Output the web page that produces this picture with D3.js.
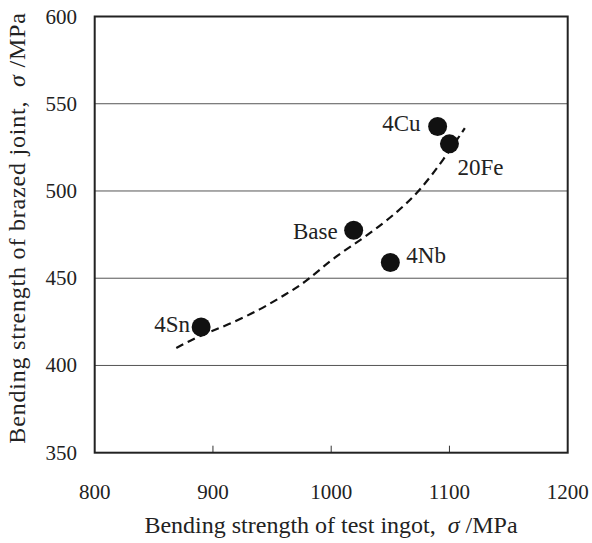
<!DOCTYPE html>
<html>
<head>
<meta charset="utf-8">
<title>Bending strength</title>
<style>
  body { margin: 0; background: #fff; }
  .grid line { stroke: #555; stroke-width: 1; }
  .frame { fill: none; stroke: #222; stroke-width: 2; }
</style>
</head>
<body>
<div id="chart"></div>
<script src="https://cdn.jsdelivr.net/npm/d3@7"></script>
<script>
// data
var names   = ["4Cu", "20Fe", "Base", "4Nb", "4Sn"];
var ingot   = [1090, 1100, 1019, 1050, 890];
var joint   = [537, 527, 477.5, 459, 422];

// dashed trend line
var trendX = [869, 890, 912, 940, 962, 979, 1002, 1030, 1058, 1076, 1095, 1113];
var trendY = [410, 417.5, 423, 432, 441, 448, 462, 474, 489, 501, 518, 536];

var xTicks = [800, 900, 1000, 1100, 1200];
var yTicks = [350, 400, 450, 500, 550, 600];

// label placement relative to each marker
var labelPos = {
  "4Cu":  { dx: -17, dy: 5,  anchor: "end" },
  "20Fe": { dx: 8,   dy: 31, anchor: "start" },
  "Base": { dx: -16, dy: 9,  anchor: "end" },
  "4Nb":  { dx: 16,  dy: 0,  anchor: "start" },
  "4Sn":  { dx: -11, dy: 5,  anchor: "end" }
};

var serif = "'Liberation Serif'";

var width = 592, height = 543;
var margin = { left: 94.7, right: 24.3, top: 16.5, bottom: 90.3 };

var x = d3.scaleLinear().domain([800, 1200]).range([margin.left, width - margin.right]);
var y = d3.scaleLinear().domain([350, 600]).range([height - margin.bottom, margin.top]);

var svg = d3.select("#chart").append("svg")
    .attr("width", width)
    .attr("height", height);

// horizontal grid
svg.append("g")
    .attr("class", "grid")
    .selectAll("line")
    .data(yTicks.filter(function(d) { return d > 350 && d < 600; }))
    .enter().append("line")
    .attr("x1", x(800)).attr("x2", x(1200))
    .attr("y1", function(d) { return y(d); })
    .attr("y2", function(d) { return y(d); });

// inner x ticks
svg.append("g")
    .selectAll("line")
    .data(xTicks.slice(1, -1))
    .enter().append("line")
    .attr("x1", function(d) { return x(d); })
    .attr("x2", function(d) { return x(d); })
    .attr("y1", y(350))
    .attr("y2", y(350) - 7)
    .attr("stroke", "#333")
    .attr("stroke-width", 1);

svg.append("rect")
    .attr("class", "frame")
    .attr("x", x(800)).attr("y", y(600))
    .attr("width", x(1200) - x(800))
    .attr("height", y(350) - y(600));

// tick labels
svg.append("g")
    .selectAll("text")
    .data(yTicks)
    .enter().append("text")
    .attr("x", 77)
    .attr("y", function(d) { return y(d) + 7; })
    .attr("text-anchor", "end")
    .attr("font-size", 21)
    .style("font-family", serif)
    .style("fill", "#222")
    .text(function(d) { return d; });

svg.append("g")
    .selectAll("text")
    .data(xTicks)
    .enter().append("text")
    .attr("x", function(d) { return x(d); })
    .attr("y", 499)
    .attr("text-anchor", "middle")
    .attr("font-size", 21)
    .style("font-family", serif)
    .style("fill", "#222")
    .text(function(d) { return d; });

// trend line
var line = d3.line()
    .x(function(d, i) { return x(trendX[i]); })
    .y(function(d, i) { return y(trendY[i]); })
    .curve(d3.curveBasis);

svg.append("path")
    .datum(trendX)
    .attr("d", line)
    .attr("fill", "none")
    .attr("stroke", "#111")
    .attr("stroke-width", 2.2)
    .attr("stroke-dasharray", "8,5");

// markers
var pts = names.map(function(n, i) { return { name: n, x: ingot[i], y: joint[i] }; });

svg.append("g")
    .selectAll("circle")
    .data(pts)
    .enter().append("circle")
    .attr("cx", function(d) { return x(d.x); })
    .attr("cy", function(d) { return y(d.y); })
    .attr("r", 9.5)
    .attr("fill", "#111");

svg.append("g")
    .selectAll("text")
    .data(pts)
    .enter().append("text")
    .attr("x", function(d) { return x(d.x) + labelPos[d.name].dx; })
    .attr("y", function(d) { return y(d.y) + labelPos[d.name].dy; })
    .attr("text-anchor", function(d) { return labelPos[d.name].anchor; })
    .attr("font-size", 23)
    .style("font-family", serif)
    .style("fill", "#222")
    .text(function(d) { return d.name; });

// axis titles
var xt = svg.append("text")
    .attr("x", 331)
    .attr("y", 533)
    .attr("text-anchor", "middle")
    .attr("font-size", 24)
    .style("font-family", serif)
    .style("fill", "#222");
xt.append("tspan").text("Bending strength of test ingot,\u00a0\u00a0");
xt.append("tspan").attr("font-style", "italic").text("\u03c3");
xt.append("tspan").text(" /MPa");

var yt = svg.append("text")
    .attr("transform", "translate(25," + 228 + ") rotate(-90)")
    .attr("text-anchor", "middle")
    .attr("font-size", 24)
    .style("letter-spacing", "0.8px")
    .style("font-family", serif)
    .style("fill", "#222");
yt.append("tspan").text("Bending strength of brazed joint,\u00a0\u00a0");
yt.append("tspan").attr("font-style", "italic").text("\u03c3");
yt.append("tspan").text(" /MPa");
</script>
</body>
</html>
